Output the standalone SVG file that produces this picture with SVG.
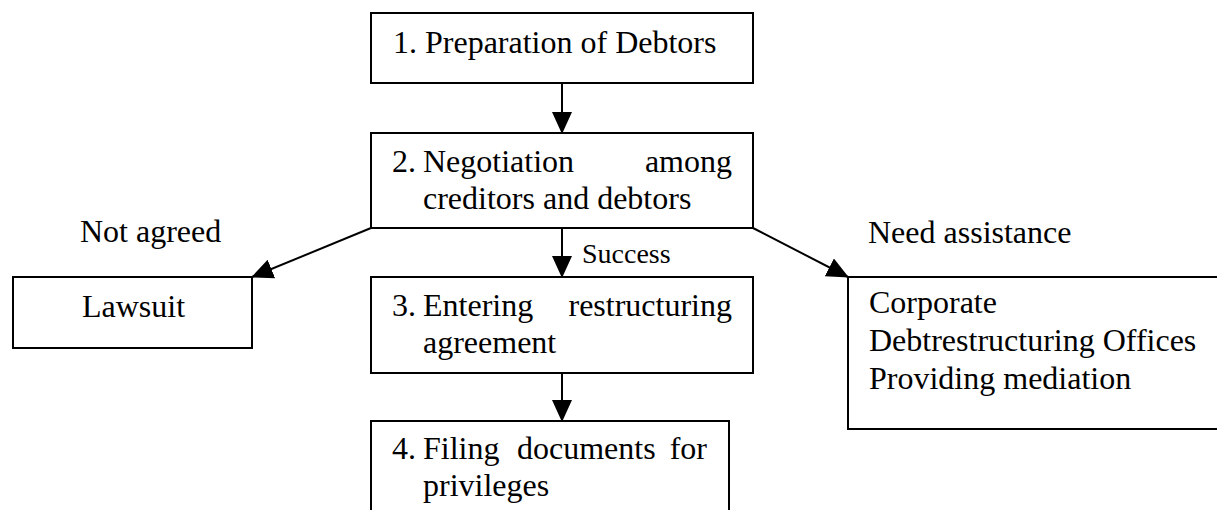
<svg xmlns="http://www.w3.org/2000/svg" width="1217" height="510" viewBox="0 0 1217 510">
<style>
  .box { fill: #ffffff; stroke: #000000; stroke-width: 2; }
  .t { font-family: "Liberation Serif", "Times New Roman", serif; font-size: 32px; fill: #000000; }
  .s { font-family: "Liberation Serif", "Times New Roman", serif; font-size: 28px; fill: #000000; }
  .c { stroke: #000000; stroke-width: 2; fill: none; marker-end: url(#arr); }
</style>
<defs>
  <marker id="arr" markerUnits="userSpaceOnUse" markerWidth="22" markerHeight="20" refX="21" refY="10" orient="auto">
    <path d="M0,0 L22,10 L0,20 Z" fill="#000000"/>
  </marker>
</defs>
<rect width="1217" height="510" fill="#ffffff"/>

<g id="connectors">
  <line class="c" x1="562" y1="83" x2="562" y2="133"/>
  <line class="c" x1="562" y1="228" x2="562" y2="277"/>
  <line class="c" x1="562" y1="373" x2="562" y2="421"/>
  <line class="c" x1="371" y1="228" x2="252" y2="277"/>
  <line class="c" x1="753" y1="228" x2="848" y2="277"/>
  <text class="t" x="80" y="242">Not agreed</text>
  <text class="t" x="868" y="243">Need assistance</text>
  <text class="s" x="582" y="263">Success</text>
</g>

<g id="node1">
  <rect class="box" x="371" y="13" width="382" height="70"/>
  <text class="t" x="393" y="53">1. Preparation of Debtors</text>
</g>

<g id="node2">
  <rect class="box" x="371" y="133" width="382" height="95"/>
  <text class="t" x="392" y="172">2.</text>
  <text class="t" x="423" y="172">Negotiation</text>
  <text class="t" x="732" y="172" text-anchor="end">among</text>
  <text class="t" x="423" y="209">creditors and debtors</text>
</g>

<g id="node3">
  <rect class="box" x="371" y="277" width="382" height="96"/>
  <text class="t" x="392" y="316">3.</text>
  <text class="t" x="423" y="316">Entering</text>
  <text class="t" x="732" y="316" text-anchor="end">restructuring</text>
  <text class="t" x="423" y="353">agreement</text>
</g>

<g id="node4">
  <rect class="box" x="371" y="421" width="358" height="100"/>
  <text class="t" x="392" y="459">4.</text>
  <text class="t" x="423" y="459">Filing</text>
  <text class="t" x="517" y="459">documents</text>
  <text class="t" x="707" y="459" text-anchor="end">for</text>
  <text class="t" x="423" y="496">privileges</text>
</g>

<g id="lawsuit">
  <rect class="box" x="13" y="277" width="239" height="71"/>
  <text class="t" x="82" y="317">Lawsuit</text>
</g>

<g id="mediation">
  <rect class="box" x="848" y="277" width="400" height="152"/>
  <text class="t" x="869" y="313">Corporate</text>
  <text class="t" x="869" y="351">Debtrestructuring Offices</text>
  <text class="t" x="869" y="389">Providing mediation</text>
</g>
</svg>
